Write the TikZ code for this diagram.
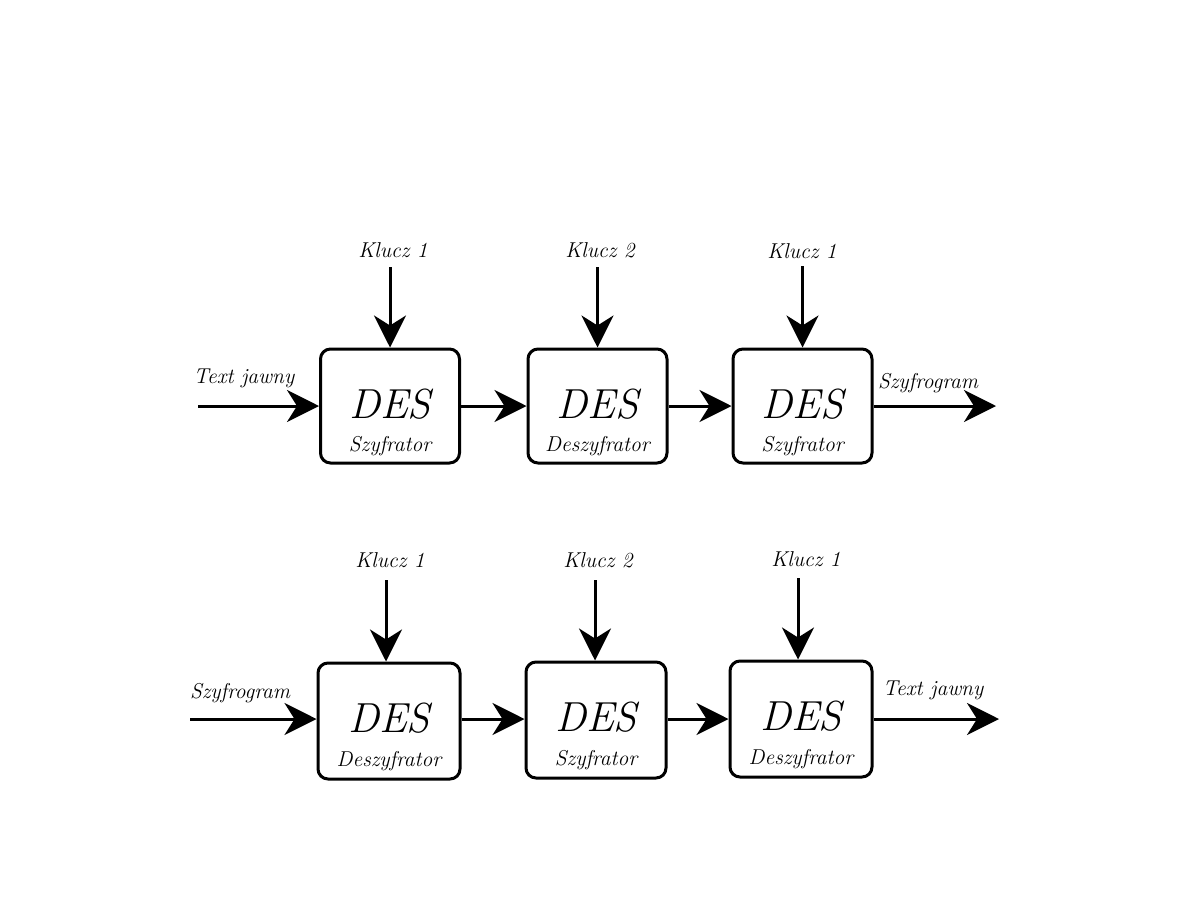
\documentclass[tikz,border=0pt]{standalone}
\usetikzlibrary{arrows.meta}
\begin{document}
\begin{tikzpicture}[x=1pt,y=-1pt,
  desbox/.style={draw,line width=3pt,rounded corners=10pt,minimum width=139pt,minimum height=114pt,inner sep=0pt},
  arr/.style={line width=3pt,-{Stealth[length=32pt,width=32pt,inset=10pt]}},
  lbl/.style={font=\itshape\fontsize{21.5}{22}\selectfont,inner sep=0pt},
  big/.style={font=\itshape\fontsize{42}{44}\selectfont,inner sep=0pt},
  sub/.style={font=\itshape\fontsize{21.5}{22}\selectfont,inner sep=0pt}]
\useasboundingbox (0,0) rectangle (1188,918);
% row 1
\node[desbox] (a1) at (390,406) {};
\node[desbox] (a2) at (597.5,406) {};
\node[desbox] (a3) at (802.5,406) {};
\foreach \n/\s in {a1/Szyfrator,a2/Deszyfrator,a3/Szyfrator}{
  \node[big] (\n d) at ([yshift=2pt]\n.center) {DES};
  \node[sub] (\n s) at ([yshift=-40pt]\n.center) {\s};
}
\node[lbl] (k11) at (393,250) {Klucz 1};
\node[lbl] (k12) at (600,250) {Klucz 2};
\node[lbl] (k13) at (802,251) {Klucz 1};
\coordinate (t11) at (390,267);
\coordinate (t12) at (597.5,267);
\coordinate (t13) at (802.5,266);
\draw[arr] (t11) -- (a1.north);
\draw[arr] (t12) -- (a2.north);
\draw[arr] (t13) -- (a3.north);
\coordinate (in1) at (198,406);
\coordinate (out1) at (996,406);
\node[lbl] (tin1) at (244,378) {Text jawny};
\node[lbl] (tout1) at (928,383) {Szyfrogram};
\draw[arr] (in1) -- (a1.west);
\draw[arr] (a1.east) -- (a2.west);
\draw[arr] (a2.east) -- (a3.west);
\draw[arr] (a3.east) -- (out1);
% row 2
\node[desbox,minimum width=142pt,minimum height=116pt] (b1) at (389,721) {};
\node[desbox,minimum width=140pt,minimum height=116pt] (b2) at (596,720) {};
\node[desbox,minimum width=142pt,minimum height=116pt] (b3) at (801,719) {};
\foreach \n/\s in {b1/Deszyfrator,b2/Szyfrator,b3/Deszyfrator}{
  \node[big] (\n d) at ([yshift=3pt]\n.center) {DES};
  \node[sub] (\n s) at ([yshift=-40pt]\n.center) {\s};
}
\node[lbl] (k21) at (390,560) {Klucz 1};
\node[lbl] (k22) at (598,560) {Klucz 2};
\node[lbl] (k23) at (806,559) {Klucz 1};
\coordinate (t21) at (386,580);
\coordinate (t22) at (595,580);
\coordinate (t23) at (798,578);
\draw[arr] (t21) -- (t21 |- b1.north);
\draw[arr] (t22) -- (t22 |- b2.north);
\draw[arr] (t23) -- (t23 |- b3.north);
\coordinate (in2) at (190,719);
\coordinate (out2) at (999,719);
\node[lbl] (tin2) at (240,693) {Szyfrogram};
\node[lbl] (tout2) at (933,690) {Text jawny};
\draw[arr] (in2) -- (in2 -| b1.west);
\draw[arr] (b1.east |- in2) -- (b2.west |- in2);
\draw[arr] (b2.east |- in2) -- (b3.west |- in2);
\draw[arr] (b3.east |- in2) -- (out2);
\end{tikzpicture}
\end{document}
